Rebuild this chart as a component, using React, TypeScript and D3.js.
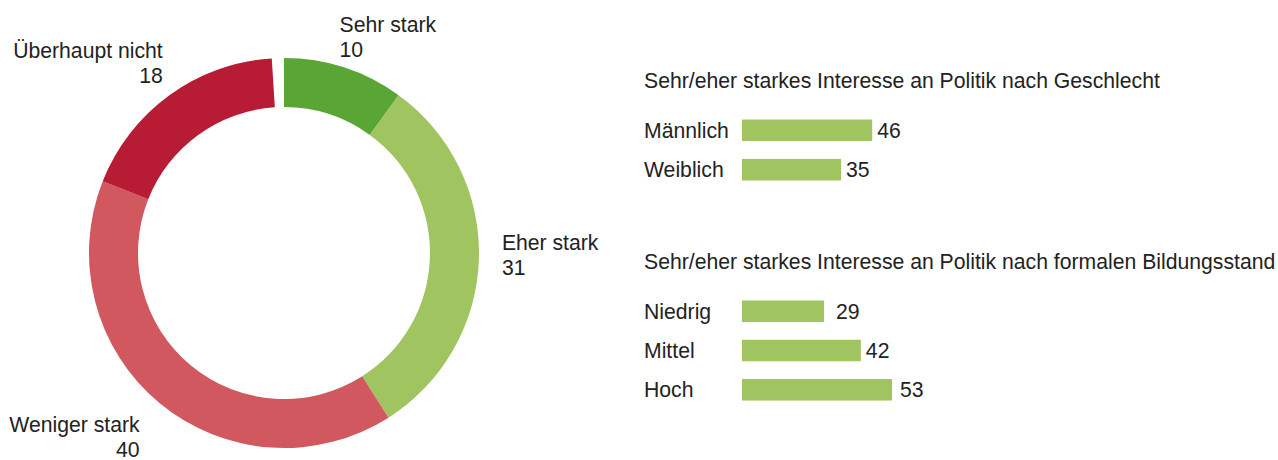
import React from "react";
import * as d3 from "d3";

const donutCategories = ["Sehr stark", "Eher stark", "Weniger stark", "Überhaupt nicht"];
const donutValues = [10, 31, 40, 18];
const donutTotal = 100;
const donutColors = ["#5aa634", "#a0c45f", "#d0585e", "#b81c34"];

const genderTitle = "Sehr/eher starkes Interesse an Politik nach Geschlecht";
const genderCategories = ["Männlich", "Weiblich"];
const genderValues = [46, 35];

const eduTitle = "Sehr/eher starkes Interesse an Politik nach formalen Bildungsstand";
const eduCategories = ["Niedrig", "Mittel", "Hoch"];
const eduValues = [29, 42, 53];

const W = 1278;
const H = 460;
const FONT = "'Liberation Sans', Arial, sans-serif";
const TEXT = "#222";
const BAR = "#a0c45f";

// label layout tweaks (dx, dy, anchor)
const donutLabelAdj: [number, number, "start" | "end"][] = [
  [-14, -2, "start"],
  [-7, -5, "start"],
  [-1, 11, "end"],
  [11, -8, "end"],
];
const genderGap = [5, 5];
const eduGap = [12, 5, 8];

export default function App() {
  const cx = 284;
  const cy = 253;
  const rOuter = 195;
  const rInner = 146;

  const pieData = [...donutValues, donutTotal - d3.sum(donutValues)];
  const pie = d3.pie<number>().value((d) => d).sort(null)(pieData);
  const arc = d3.arc<d3.PieArcDatum<number>>().innerRadius(rInner).outerRadius(rOuter);
  const labelArc = d3.arc<d3.PieArcDatum<number>>().innerRadius(225).outerRadius(225);

  const x = d3.scaleLinear().domain([0, 100]).range([0, 283]);
  const barX0 = 742;
  const barH = 21.5;

  const yGender = d3.scaleBand<string>().domain(genderCategories).range([110, 190]).paddingInner(0.47).paddingOuter(0.25);
  const yEdu = d3.scaleBand<string>().domain(eduCategories).range([291, 410]).paddingInner(0.47).paddingOuter(0.25);

  const fs = 21.2;

  const renderBars = (cats: string[], vals: number[], y: d3.ScaleBand<string>, gaps: number[]) =>
    cats.map((c, i) => {
      const yc = (y(c) as number) + y.bandwidth() / 2;
      return (
        <g key={c}>
          <text x={644} y={yc} dy="0.35em" fontSize={fs} fill={TEXT}>
            {c}
          </text>
          <rect x={barX0} y={yc - barH / 2} width={x(vals[i])} height={barH} fill={BAR} />
          <text x={barX0 + x(vals[i]) + gaps[i]} y={yc} dy="0.35em" fontSize={fs} fill={TEXT}>
            {vals[i]}
          </text>
        </g>
      );
    });

  return (
    <svg
      width={W}
      height={H}
      style={{ position: "absolute", left: 0, top: 0, background: "#fff" }}
      fontFamily={FONT}
    >
      <g transform={`translate(${cx},${cy})`}>
        {pie.slice(0, donutValues.length).map((p, i) => (
          <path key={i} d={arc(p) as string} fill={donutColors[i]} />
        ))}
        {pie.slice(0, donutValues.length).map((p, i) => {
          const [lx, ly] = labelArc.centroid(p);
          const [dx, dy, anchor] = donutLabelAdj[i];
          return (
            <text key={"l" + i} textAnchor={anchor} fontSize={fs} fill={TEXT}>
              <tspan x={lx + dx} y={ly + dy - 5}>{donutCategories[i]}</tspan>
              <tspan x={lx + dx} y={ly + dy + 20}>{donutValues[i]}</tspan>
            </text>
          );
        })}
      </g>
      <text x={644} y={87.5} fontSize={fs} fill={TEXT}>
        {genderTitle}
      </text>
      {renderBars(genderCategories, genderValues, yGender, genderGap)}
      <text x={644} y={269} fontSize={fs} fill={TEXT}>
        {eduTitle}
      </text>
      {renderBars(eduCategories, eduValues, yEdu, eduGap)}
    </svg>
  );
}
